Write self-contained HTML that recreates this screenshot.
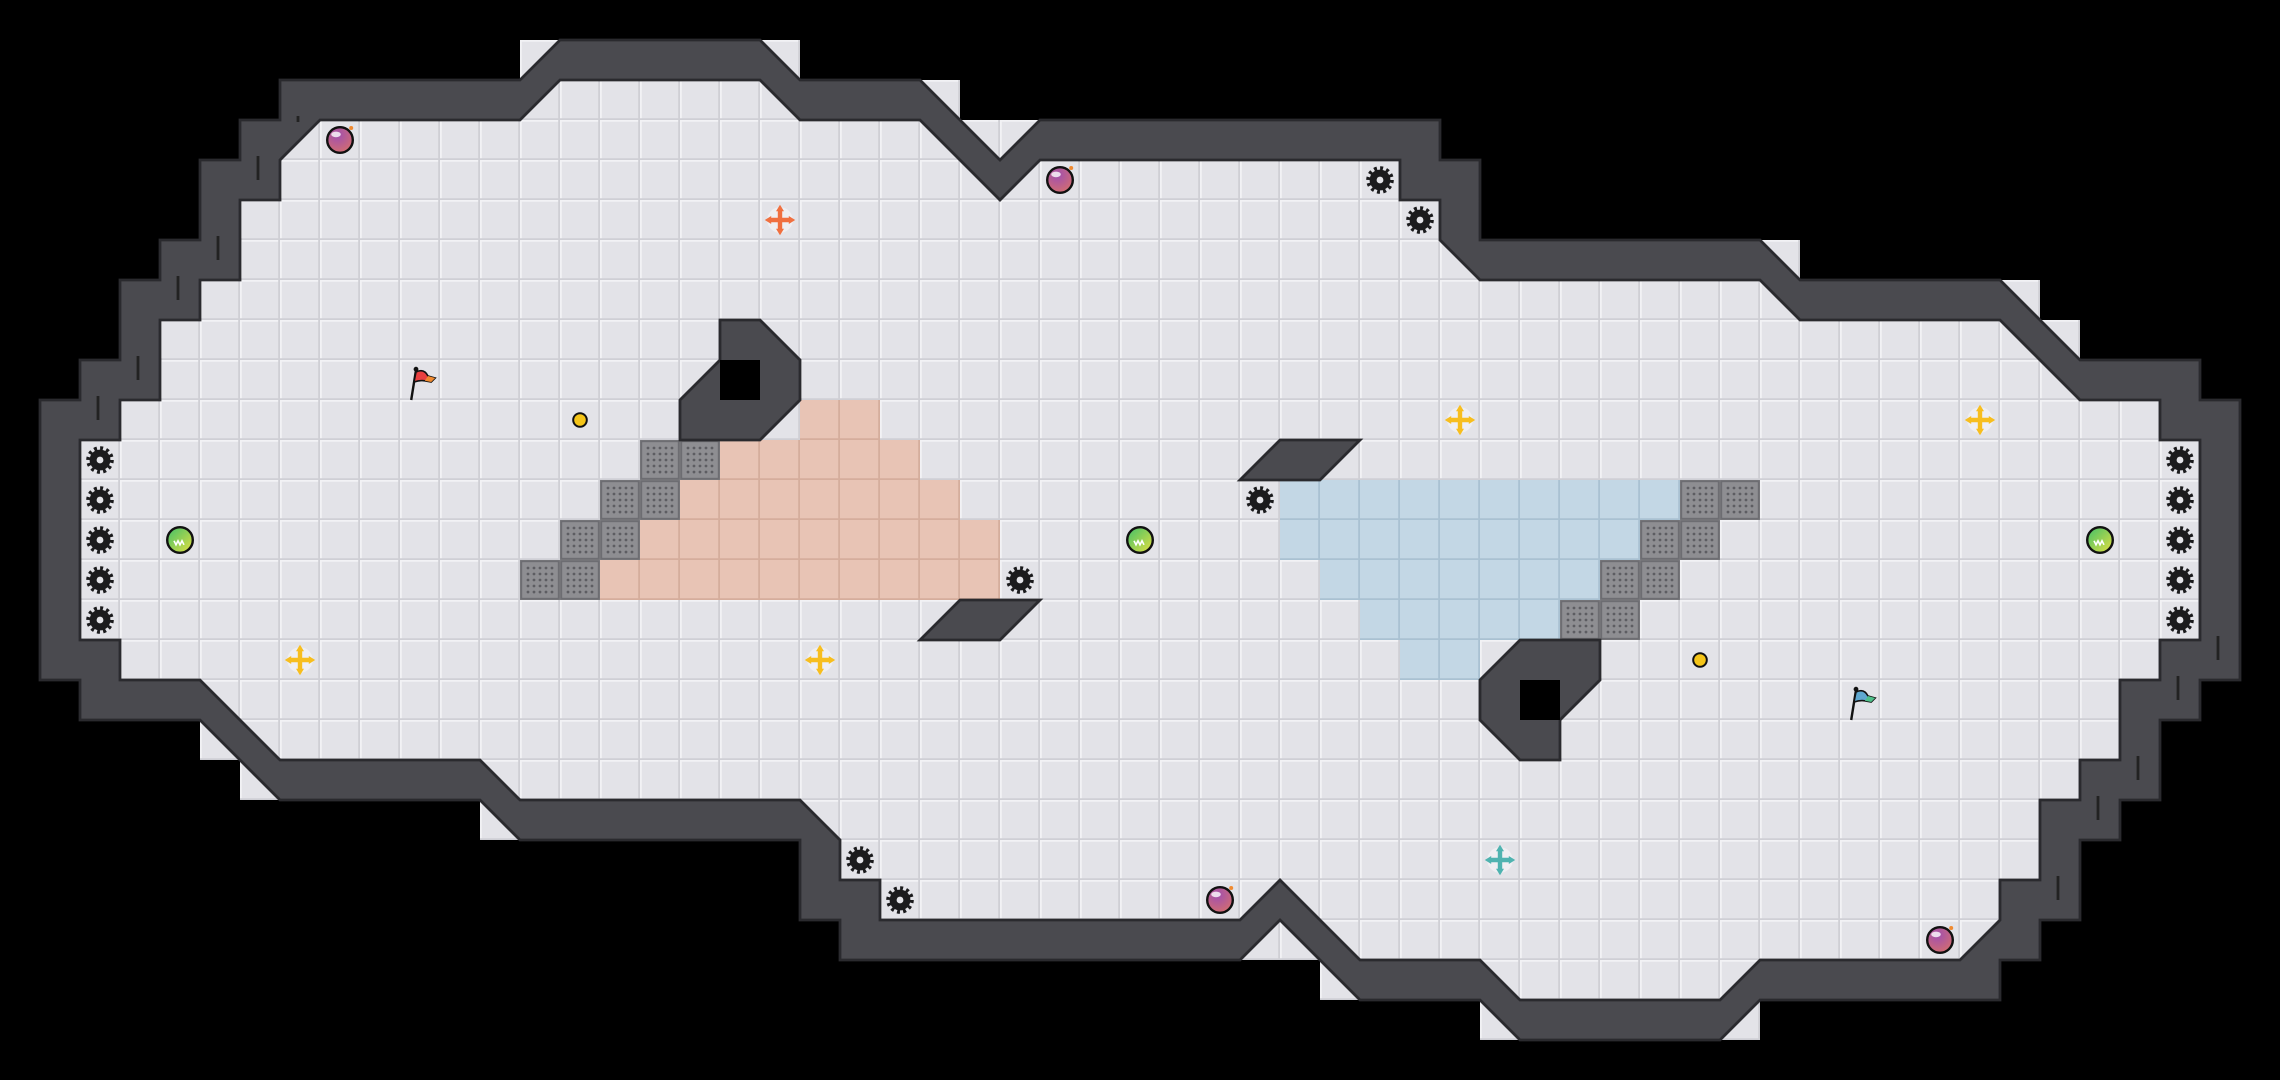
<!DOCTYPE html>
<html><head><meta charset="utf-8"><style>
html,body{margin:0;padding:0;background:#000;}
svg{display:block;}
</style></head><body>
<svg xmlns="http://www.w3.org/2000/svg" width="2280" height="1080" viewBox="0 0 57 27">
<defs>
<pattern id="g" width="1" height="1" patternUnits="userSpaceOnUse">
<rect width="1" height="1" fill="#e3e3e8"/>
<path d="M0 0.02H1M0.02 0V1" stroke="#f2f2f5" stroke-width="0.05"/>
<path d="M0 0.98H1M0.98 0V1" stroke="#cfcfd5" stroke-width="0.05"/>
</pattern>
<pattern id="m" width="1" height="1" patternUnits="userSpaceOnUse">
<rect width="1" height="1" fill="#8e8e92"/>
<rect x="0.03" y="0.03" width="0.94" height="0.94" fill="none" stroke="#6d6d72" stroke-width="0.05"/>
<g fill="#5d5d62">
<circle cx="0.2" cy="0.2" r="0.035"/><circle cx="0.35" cy="0.2" r="0.035"/><circle cx="0.5" cy="0.2" r="0.035"/><circle cx="0.65" cy="0.2" r="0.035"/><circle cx="0.8" cy="0.2" r="0.035"/>
<circle cx="0.2" cy="0.35" r="0.035"/><circle cx="0.35" cy="0.35" r="0.035"/><circle cx="0.5" cy="0.35" r="0.035"/><circle cx="0.65" cy="0.35" r="0.035"/><circle cx="0.8" cy="0.35" r="0.035"/>
<circle cx="0.2" cy="0.5" r="0.035"/><circle cx="0.35" cy="0.5" r="0.035"/><circle cx="0.5" cy="0.5" r="0.035"/><circle cx="0.65" cy="0.5" r="0.035"/><circle cx="0.8" cy="0.5" r="0.035"/>
<circle cx="0.2" cy="0.65" r="0.035"/><circle cx="0.35" cy="0.65" r="0.035"/><circle cx="0.5" cy="0.65" r="0.035"/><circle cx="0.65" cy="0.65" r="0.035"/><circle cx="0.8" cy="0.65" r="0.035"/>
<circle cx="0.2" cy="0.8" r="0.035"/><circle cx="0.35" cy="0.8" r="0.035"/><circle cx="0.5" cy="0.8" r="0.035"/><circle cx="0.65" cy="0.8" r="0.035"/><circle cx="0.8" cy="0.8" r="0.035"/>
</g>
</pattern>
<pattern id="pc" width="1" height="1" patternUnits="userSpaceOnUse">
<rect width="1" height="1" fill="#e8c4b5"/>
<path d="M0 0.98H1M0.98 0V1" stroke="#d5ad9c" stroke-width="0.05"/>
</pattern>
<pattern id="bl" width="1" height="1" patternUnits="userSpaceOnUse">
<rect width="1" height="1" fill="#c3d7e5"/>
<path d="M0 0.98H1M0.98 0V1" stroke="#a9c1d2" stroke-width="0.05"/>
</pattern>
<radialGradient id="pur" cx="0.4" cy="0.3" r="0.8"><stop offset="0" stop-color="#a04fb0"/><stop offset="1" stop-color="#d8706a"/></radialGradient>
<linearGradient id="grn" x1="0" y1="0" x2="1" y2="1"><stop offset="0" stop-color="#3fbf6a"/><stop offset="1" stop-color="#e6e040"/></linearGradient>
<g id="gear"><circle r="0.28" fill="none" stroke="#1b1b1d" stroke-width="0.13" stroke-dasharray="0.07 0.076"/><circle r="0.26" fill="#1b1b1d"/><circle r="0.085" fill="#e3e3e8"/></g>
<g id="bomb"><circle r="0.32" fill="url(#pur)" stroke="#111" stroke-width="0.06"/><ellipse cx="-0.1" cy="-0.14" rx="0.12" ry="0.07" fill="#fff" opacity="0.8"/><circle cx="0.28" cy="-0.3" r="0.05" fill="#f08a30"/></g>
<g id="ball"><circle r="0.32" fill="url(#grn)" stroke="#111" stroke-width="0.06"/><path d="M-0.15 0.02l0.05 0.1 0.05-0.1 0.05 0.1 0.05-0.1 0.05 0.1" stroke="#fff" stroke-width="0.04" fill="none"/></g>
<g id="cross"><circle r="0.32" fill="#f4f4f6" opacity="0.7"/><path d="M-0.24 0H0.24M0 -0.24V0.24" stroke="currentColor" stroke-width="0.11"/><path d="M0 -0.38L-0.1 -0.22H0.1ZM0 0.38L-0.1 0.22H0.1ZM-0.38 0L-0.22 -0.1V0.1ZM0.38 0L0.22 -0.1V0.1Z" fill="currentColor"/></g>
</defs>
<rect width="57" height="27" fill="#000"/>
<g fill="url(#g)">
<polygon points="7,2 7,3 6,3 6,4 5,4 5,6 4,6 4,7 3,7 3,9 2,9 2,10 1,10 1,17 2,17 2,18 5,18 7,20 12,20 13,21 20,21 20,23 21,23 21,24 31,24 32,23 34,25 37,25 38,26 43,26 44,25 50,25 50,24 51,24 51,23 52,23 52,21 53,21 53,20 54,20 54,18 55,18 55,17 56,17 56,10 55,10 55,9 52,9 50,7 45,7 44,6 37,6 37,4 36,4 36,3 26,3 25,4 23,2 20,2 19,1 14,1 13,2"/>
<rect x="13" y="1" width="1" height="1"/><rect x="19" y="1" width="1" height="1"/>
<rect x="23" y="2" width="1" height="1"/><rect x="24" y="3" width="1" height="1"/><rect x="25" y="3" width="1" height="1"/>
<rect x="44" y="6" width="1" height="1"/><rect x="50" y="7" width="1" height="1"/><rect x="51" y="8" width="1" height="1"/>
<rect x="5" y="18" width="1" height="1"/><rect x="6" y="19" width="1" height="1"/><rect x="12" y="20" width="1" height="1"/>
<rect x="31" y="23" width="1" height="1"/><rect x="32" y="23" width="1" height="1"/><rect x="33" y="24" width="1" height="1"/>
<rect x="37" y="25" width="1" height="1"/><rect x="43" y="25" width="1" height="1"/>
</g>
<g fill="url(#pc)">
<rect x="20" y="10" width="2" height="1"/><rect x="18" y="11" width="5" height="1"/><rect x="17" y="12" width="7" height="1"/><rect x="16" y="13" width="9" height="1"/><rect x="15" y="14" width="10" height="1"/>
</g>
<g fill="url(#bl)">
<rect x="32" y="12" width="10" height="1"/><rect x="32" y="13" width="9" height="1"/><rect x="33" y="14" width="7" height="1"/><rect x="34" y="15" width="5" height="1"/><rect x="35" y="16" width="2" height="1"/>
</g>
<g fill="url(#m)">
<rect x="16" y="11" width="2" height="1"/><rect x="15" y="12" width="2" height="1"/><rect x="14" y="13" width="2" height="1"/><rect x="13" y="14" width="2" height="1"/>
<rect x="42" y="12" width="2" height="1"/><rect x="41" y="13" width="2" height="1"/><rect x="40" y="14" width="2" height="1"/><rect x="39" y="15" width="2" height="1"/>
</g>
<path fill="#4a4a4f" stroke="#2a2a2e" stroke-width="0.07" stroke-linejoin="miter" fill-rule="evenodd" d="M7,2 7,3 6,3 6,4 5,4 5,6 4,6 4,7 3,7 3,9 2,9 2,10 1,10 1,17 2,17 2,18 5,18 7,20 12,20 13,21 20,21 20,23 21,23 21,24 31,24 32,23 34,25 37,25 38,26 43,26 44,25 50,25 50,24 51,24 51,23 52,23 52,21 53,21 53,20 54,20 54,18 55,18 55,17 56,17 56,10 55,10 55,9 52,9 50,7 45,7 44,6 37,6 37,4 36,4 36,3 26,3 25,4 23,2 20,2 19,1 14,1 13,2Z M8,3 13,3 14,2 19,2 20,3 23,3 25,5 26,4 35,4 35,5 36,5 36,6 37,7 44,7 45,8 50,8 52,10 54,10 54,11 55,11 55,16 54,16 54,17 53,17 53,19 52,19 52,20 51,20 51,22 50,22 50,23 49,24 44,24 43,25 38,25 37,24 34,24 32,22 31,23 22,23 22,22 21,22 21,21 20,20 13,20 12,19 7,19 5,17 3,17 3,16 2,16 2,11 3,11 3,10 4,10 4,8 5,8 5,7 6,7 6,5 7,5 7,4Z"/>
<g stroke="#222" stroke-width="0.07">
<path d="M2.45 9.9V10.5M3.45 8.9V9.5M4.45 6.9V7.5M5.45 5.9V6.5M6.45 3.9V4.5M7.45 2.9V3.05"/>
<path d="M55.45 15.9V16.5M54.45 16.9V17.5M53.45 18.9V19.5M52.45 19.9V20.5M51.45 21.9V22.5"/>
</g>
<g fill="#4a4a4f" stroke="#2a2a2e" stroke-width="0.07">
<polygon points="18,8 19,8 20,9 20,10 19,11 17,11 17,10 18,9"/>
<polygon points="38,16 40,16 40,17 39,18 39,19 38,19 37,18 37,17"/>
<polygon points="24,15 26,15 25,16 23,16"/>
<polygon points="32,11 34,11 33,12 31,12"/>
</g>
<rect x="18" y="9" width="1" height="1" fill="#000"/>
<rect x="38" y="17" width="1" height="1" fill="#000"/>
<use href="#gear" x="2.5" y="11.5"/><use href="#gear" x="2.5" y="12.5"/><use href="#gear" x="2.5" y="13.5"/><use href="#gear" x="2.5" y="14.5"/><use href="#gear" x="2.5" y="15.5"/>
<use href="#gear" x="54.5" y="11.5"/><use href="#gear" x="54.5" y="12.5"/><use href="#gear" x="54.5" y="13.5"/><use href="#gear" x="54.5" y="14.5"/><use href="#gear" x="54.5" y="15.5"/>
<use href="#gear" x="34.5" y="4.5"/><use href="#gear" x="35.5" y="5.5"/><use href="#gear" x="31.5" y="12.5"/><use href="#gear" x="25.5" y="14.5"/>
<use href="#gear" x="21.5" y="21.5"/><use href="#gear" x="22.5" y="22.5"/>
<use href="#bomb" x="8.5" y="3.5"/><use href="#bomb" x="26.5" y="4.5"/><use href="#bomb" x="30.5" y="22.5"/><use href="#bomb" x="48.5" y="23.5"/>
<use href="#ball" x="4.5" y="13.5"/><use href="#ball" x="28.5" y="13.5"/><use href="#ball" x="52.5" y="13.5"/>
<circle cx="14.5" cy="10.5" r="0.17" fill="#f5c518" stroke="#111" stroke-width="0.05"/>
<circle cx="42.5" cy="16.5" r="0.17" fill="#f5c518" stroke="#111" stroke-width="0.05"/>
<use href="#cross" x="7.5" y="16.5" color="#f7be1e"/><use href="#cross" x="20.5" y="16.5" color="#f7be1e"/>
<use href="#cross" x="36.5" y="10.5" color="#f7be1e"/><use href="#cross" x="49.5" y="10.5" color="#f7be1e"/>
<use href="#cross" x="19.5" y="5.5" color="#f07040"/><use href="#cross" x="37.5" y="21.5" color="#4fb3b0"/>
<g transform="translate(10.5,9.5)">
<path d="M-0.22 0.5L-0.1 -0.25" stroke="#111" stroke-width="0.06"/>
<circle cx="-0.1" cy="-0.27" r="0.06" fill="#111"/>
<path d="M-0.1 -0.2Q0.1 -0.3 0.2 -0.1L0.38 -0.05 0.28 0.05 0.12 0.02Q0 0 -0.15 0.05Z" fill="#e84040" stroke="#111" stroke-width="0.04"/>
<path d="M0.2 -0.1L0.38 -0.05 0.28 0.05 0.12 0.02Z" fill="#f08a30"/>
</g>
<g transform="translate(46.5,17.5)">
<path d="M-0.22 0.5L-0.1 -0.25" stroke="#111" stroke-width="0.06"/>
<circle cx="-0.1" cy="-0.27" r="0.06" fill="#111"/>
<path d="M-0.1 -0.2Q0.1 -0.3 0.2 -0.1L0.38 -0.05 0.28 0.05 0.12 0.02Q0 0 -0.15 0.05Z" fill="#5fa8d0" stroke="#111" stroke-width="0.04"/>
<path d="M0.2 -0.1L0.38 -0.05 0.28 0.05 0.12 0.02Z" fill="#4fc08a"/>
</g>
</svg>
</body></html>
